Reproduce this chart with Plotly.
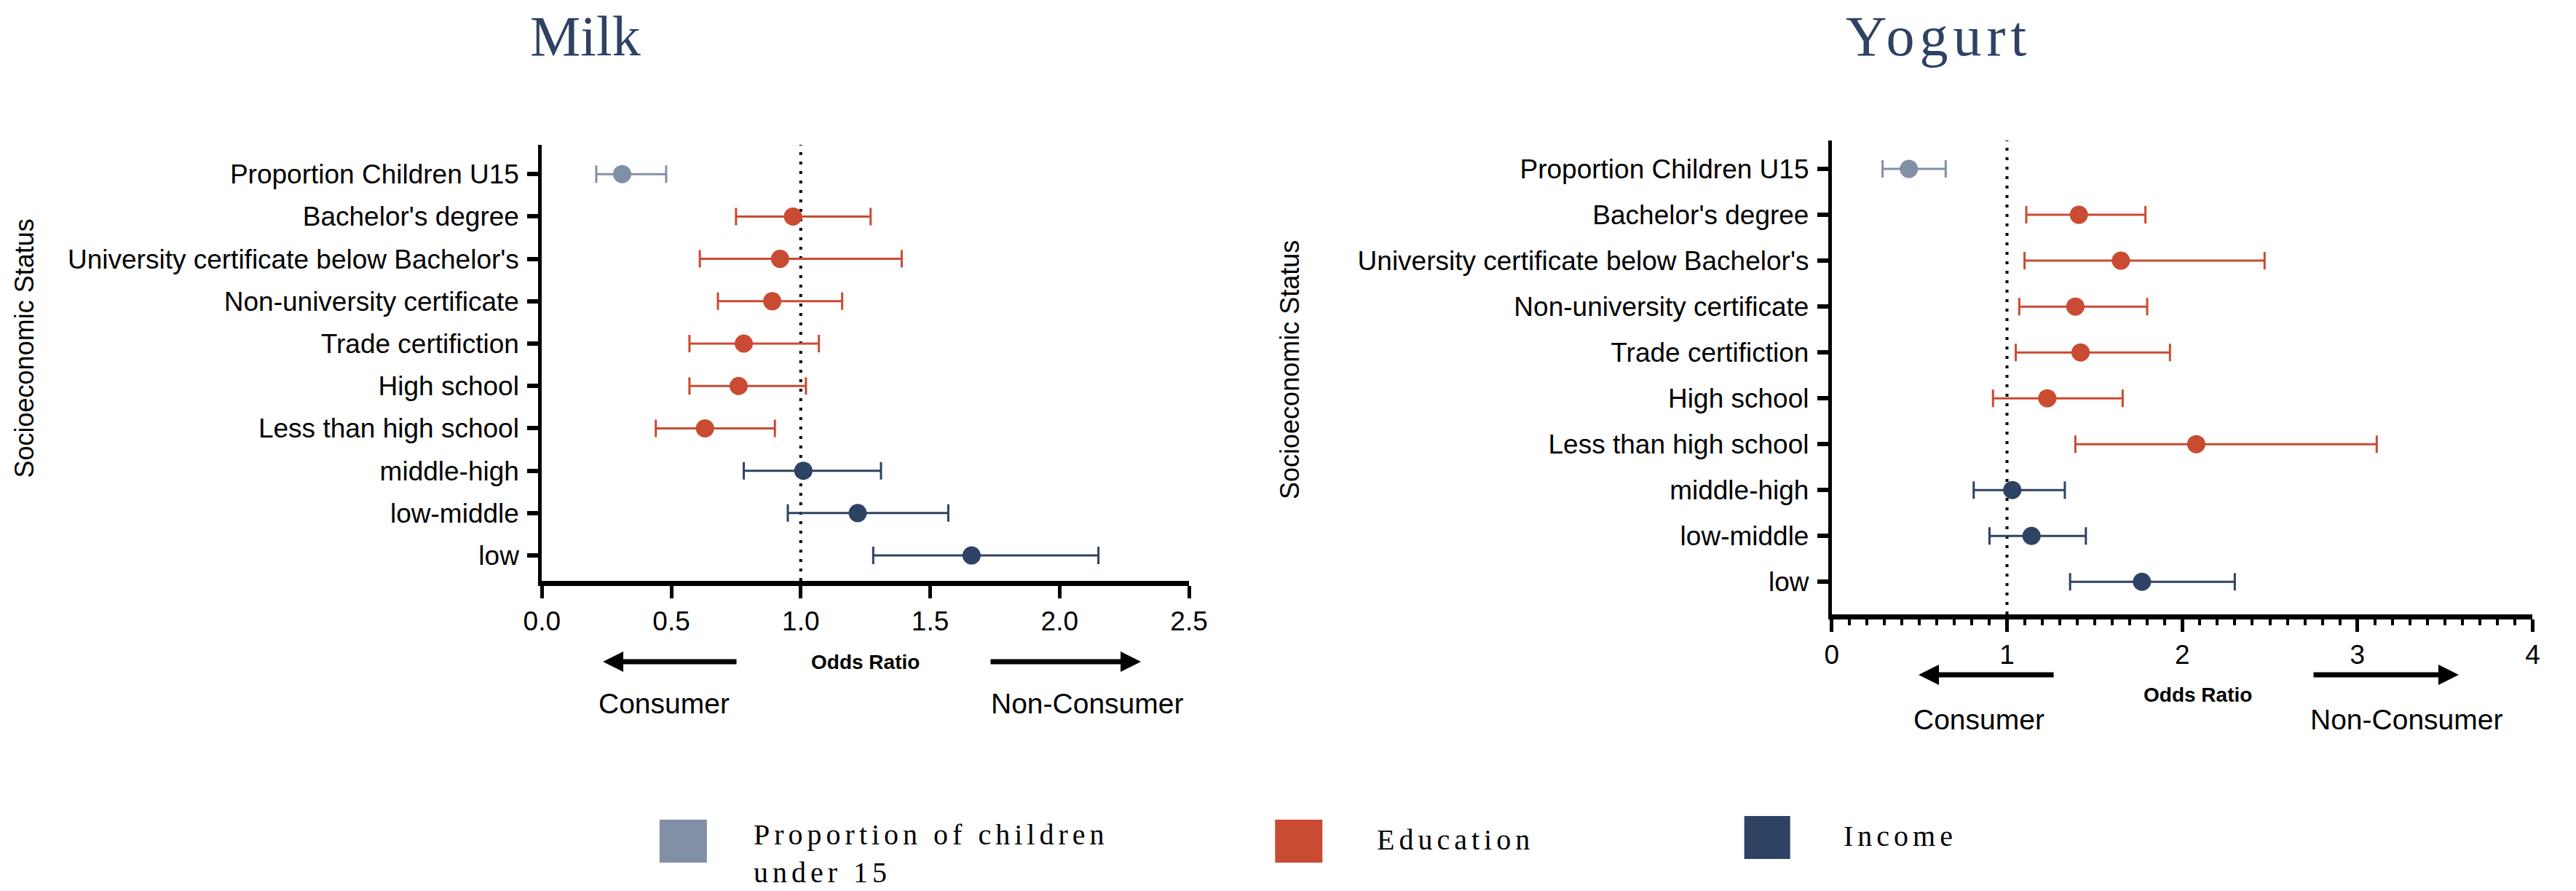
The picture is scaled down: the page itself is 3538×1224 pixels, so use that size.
import plotly.graph_objects as go

# Row labels, top to bottom
categories = [
    "Proportion Children U15",
    "Bachelor's degree",
    "University certificate below Bachelor's",
    "Non-university certificate",
    "Trade certifiction",
    "High school",
    "Less than high school",
    "middle-high",
    "low-middle",
    "low",
]
# Factor group of each row
groups = ["children"] + ["education"] * 6 + ["income"] * 3

# Milk: odds ratios with 95% confidence limits
milk_or = [0.31, 0.97, 0.92, 0.89, 0.78, 0.76, 0.63, 1.01, 1.22, 1.66]
milk_lo = [0.21, 0.75, 0.61, 0.68, 0.57, 0.57, 0.44, 0.78, 0.95, 1.28]
milk_hi = [0.48, 1.27, 1.39, 1.16, 1.07, 1.02, 0.90, 1.31, 1.57, 2.15]

# Yogurt: odds ratios with 95% confidence limits
yog_or = [0.44, 1.41, 1.65, 1.39, 1.42, 1.23, 2.08, 1.03, 1.14, 1.77]
yog_lo = [0.29, 1.11, 1.10, 1.07, 1.05, 0.92, 1.39, 0.81, 0.90, 1.36]
yog_hi = [0.65, 1.79, 2.47, 1.80, 1.93, 1.66, 3.11, 1.33, 1.45, 2.30]

group_names = ["children", "education", "income"]
group_labels = ["Proportion of children<br>under 15", "Education", "Income"]
group_colors = {"children": "#8290a6", "education": "#c94b32", "income": "#2e4263"}

W, H = 3538, 1224
SANS = "Liberation Sans, Arial, sans-serif"
SERIF = "Liberation Serif, Times New Roman, serif"

fig = go.Figure()


def add_panel(ors, los, his, xa, ya):
    for g in group_names:
        idx = [i for i, gg in enumerate(groups) if gg == g]
        c = group_colors[g]
        fig.add_trace(go.Scatter(
            x=[ors[i] for i in idx],
            y=idx,
            mode="markers",
            marker=dict(size=25, color=c),
            error_x=dict(
                type="data", symmetric=False,
                array=[his[i] - ors[i] for i in idx],
                arrayminus=[ors[i] - los[i] for i in idx],
                color=c, thickness=3, width=12,
            ),
            xaxis=xa, yaxis=ya, showlegend=False, hoverinfo="skip",
        ))


add_panel(milk_or, milk_lo, milk_hi, "x", "y")
add_panel(yog_or, yog_lo, yog_hi, "x2", "y2")

ytick = dict(
    tickmode="array", tickvals=list(range(len(categories))), ticktext=categories,
    showline=True, linewidth=5, linecolor="black",
    ticks="outside", ticklen=15, tickwidth=6, tickcolor="black",
    tickfont=dict(family=SANS, size=37, color="black"),
    showgrid=False, zeroline=False, ticklabelstandoff=4,
)
xcommon = dict(
    showline=True, linewidth=7, linecolor="black",
    ticks="outside", ticklen=17, tickwidth=5, tickcolor="black",
    tickfont=dict(family=SANS, size=37, color="black"),
    showgrid=False, zeroline=False,
)

fig.update_layout(
    width=W, height=H,
    margin=dict(l=0, r=0, t=0, b=0),
    paper_bgcolor="white", plot_bgcolor="white",
    xaxis=dict(domain=[729 / W, 1631 / W], range=[0, 2.5], dtick=0.5,
               tickformat=".1f", anchor="y", **xcommon),
    yaxis=dict(domain=[1 - 798 / H, 1 - 199 / H], range=[9.6, -0.69],
               anchor="x", **ytick),
    xaxis2=dict(domain=[2527 / W, 3504 / W], range=[0, 4], dtick=1,
                minor=dict(dtick=0.1, ticks="outside", ticklen=8, tickwidth=4,
                           tickcolor="black"),
                anchor="y2", **xcommon),
    yaxis2=dict(domain=[1 - 844 / H, 1 - 193 / H], range=[9.71, -0.62],
                anchor="x2", **ytick),
)

# Reference line at odds ratio = 1
for xr, yr in (("x", "y domain"), ("x2", "y2 domain")):
    fig.add_shape(type="line", xref=xr, yref=yr, x0=1, x1=1, y0=0, y1=1,
                  line=dict(color="black", width=4, dash="4px,9px"), layer="below")

ann = []


def px(x):
    return x / W


def py(y):
    return 1 - y / H


def label(text, x, y, font, **kw):
    d = dict(text=text, x=px(x), y=py(y), xref="paper", yref="paper",
             showarrow=False, xanchor="center", yanchor="middle", font=font)
    d.update(kw)
    ann.append(d)


# Panel titles
label("Milk", 790, 50, dict(family=SERIF, size=78, color="#2e4263"))
label('<span style="letter-spacing:7px">Yogurt</span>', 2676, 50,
      dict(family=SERIF, size=78, color="#2e4263"))

# Vertical axis titles
label("Socioeconomic Status", 36, 478, dict(family=SANS, size=36, color="black"),
      textangle=-90, xshift=-27)
label("Socioeconomic Status", 1771, 508, dict(family=SANS, size=36, color="black"),
      textangle=-90)

# Direction hints under each x axis
panels = [
    dict(y=909, oy=909, l0=814, l1=999, r0=1356, r1=1564, cy=966, cl=899, cr=1489, oc=1180),
    dict(y=927, oy=954, l0=2648, l1=2835, r0=3200, r1=3401, cy=988, cl=2732, cr=3328, oc=3037),
]
for p in panels:
    label("Odds Ratio", p["oc"], p["oy"], dict(family=SANS, size=28, color="black", weight="bold"))
    label("Consumer", p["cl"], p["cy"], dict(family=SANS, size=39, color="black"))
    label("Non-Consumer", p["cr"], p["cy"], dict(family=SANS, size=39, color="black"))
    ann.append(dict(text="", x=px(p["l0"]), y=py(p["y"]), xref="paper", yref="paper",
                    showarrow=True, ax=p["l1"] - p["l0"], ay=0, arrowhead=2,
                    arrowsize=0.8, arrowwidth=7, arrowcolor="black", standoff=0))
    ann.append(dict(text="", x=px(p["r1"]), y=py(p["y"]), xref="paper", yref="paper",
                    showarrow=True, ax=-(p["r1"] - p["r0"]), ay=0, arrowhead=2,
                    arrowsize=0.8, arrowwidth=7, arrowcolor="black", standoff=0))

# Group key at the bottom
key = [(893, 959, 1126, 1185, 1022, 1172), (1751, 1817, 1126, 1185, 1891, 1153),
       (2405, 2469, 1121, 1180, 2541, 1148)]
for g, lab, (x0, x1, y0, y1, tx, ty) in zip(group_names, group_labels, key):
    fig.add_shape(type="rect", xref="paper", yref="paper", x0=px(x0), x1=px(x1),
                  y0=py(y1), y1=py(y0), fillcolor=group_colors[g], line=dict(width=0))
    spaced = "<br>".join('<span style="letter-spacing:6px">%s</span>' % part
                         for part in lab.split("<br>"))
    label(spaced, tx, ty, dict(family=SERIF, size=40, color="black"),
          xanchor="left", align="left")

fig.update_layout(annotations=ann)
fig.write_html("out.html")
